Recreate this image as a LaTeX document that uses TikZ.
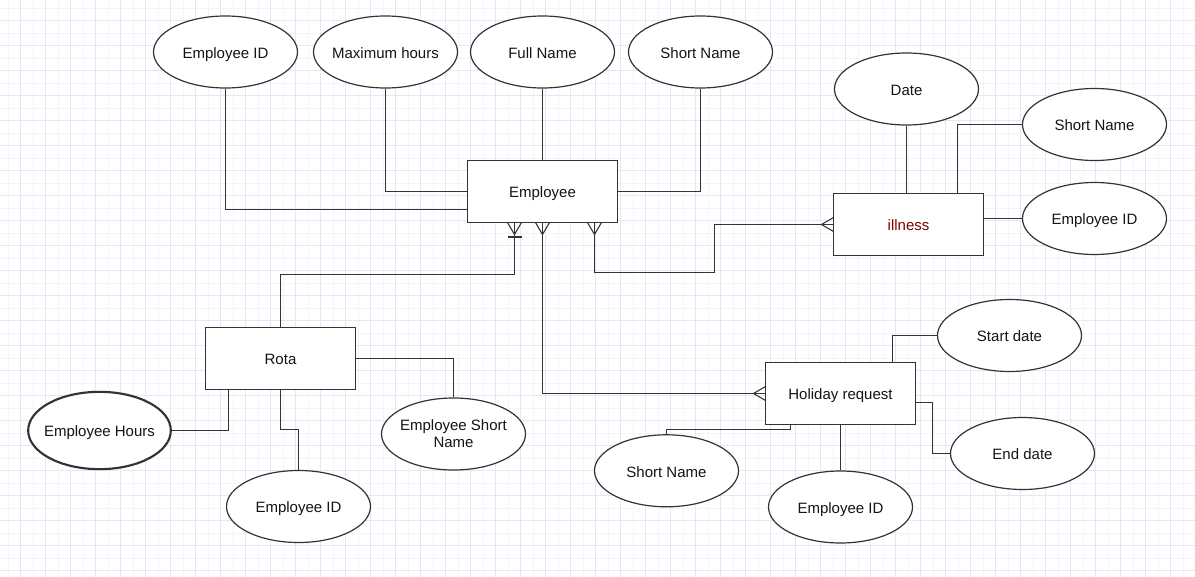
\documentclass[tikz,border=0pt]{standalone}
\usepackage{fontspec}
\setmainfont{Liberation Sans}
\usetikzlibrary{shapes.geometric,calc}
\definecolor{gridmaj}{RGB}{230,230,249}
\definecolor{gridmin}{RGB}{244,244,252}
\definecolor{linec}{RGB}{51,51,51}
\definecolor{txt}{RGB}{20,20,20}
\definecolor{illred}{RGB}{128,0,0}
\newcommand\zw[1]{\makebox[0pt][c]{#1}}
\begin{document}
\begin{tikzpicture}[x=0.75pt,y=-0.75pt,
  basefont/.style={font=\fontsize{11.25}{12.75}\selectfont,text=txt},
  attr/.style={ellipse,draw=linec,line width=0.9pt,fill=white,minimum width=108pt,minimum height=54pt,inner sep=0pt,basefont,text height=11pt,text depth=1.6pt},
  attrtwo/.style={ellipse,draw=linec,line width=0.9pt,fill=white,minimum width=108pt,minimum height=54pt,inner sep=0pt,basefont,align=center},
  ent/.style={rectangle,draw=linec,line width=1pt,fill=white,minimum width=112.5pt,minimum height=46.5pt,inner sep=0pt,outer sep=0pt,basefont,text height=11pt,text depth=1.6pt},
  conn/.style={draw=linec,line width=0.8pt},
  gmin/.style={draw=gridmin,line width=0.75pt},
  gmaj/.style={draw=gridmaj,line width=0.75pt}]
\useasboundingbox (0,0) rectangle (1195,577);
\fill[white] (0,0) rectangle (1195,577);
\foreach \x in {8.2,33.2,...,1195} \draw[gmin] (\x,0) -- (\x,577);
\foreach \y in {8.2,33.2,...,577} \draw[gmin] (0,\y) -- (1195,\y);
\foreach \x in {20.7,45.7,...,1195} \draw[gmaj] (\x,0) -- (\x,577);
\foreach \y in {20.7,45.7,...,577} \draw[gmaj] (0,\y) -- (1195,\y);

% nodes
\node[attr] (eid) at (225.5,52) {\zw{Employee ID}};
\node[attr] (maxh) at (385.5,52) {\zw{Maximum hours}};
\node[attr] (fname) at (542.5,52) {\zw{Full Name}};
\node[attr] (sname) at (700.5,52) {\zw{Short Name}};
\node[ent] (emp) at (542.5,191.5) {Employee};
\node[attr] (date) at (906.5,89) {\zw{Date}};
\node[attr] (isname) at (1094.5,124.5) {\zw{Short Name}};
\node[attr] (ieid) at (1094.5,218.5) {\zw{Employee ID}};
\node[ent,text=illred] (ill) at (908.5,224.5) {illness};
\node[ent] (rota) at (280.5,358.5) {Rota};
\node[attr,line width=1.6pt,minimum height=58pt,minimum width=107pt] (hours) at (99.5,430.5) {\zw{Employee Hours}};
\node[attr] (reid) at (298.5,506.5) {\zw{Employee ID}};
\node[attrtwo] (resn) at (453.5,434) {\zw{Employee Short}\\\zw{Name}};
\node[ent] (hol) at (840.5,393.5) {Holiday request};
\node[attr] (hstart) at (1009.5,335.5) {\zw{Start date}};
\node[attr] (hend) at (1022.5,453.5) {\zw{End date}};
\node[attr] (heid) at (840.5,507) {\zw{Employee ID}};
\node[attr] (hsn) at (666.5,470.8) {\zw{Short Name}};

% Employee attributes
\draw[conn] (eid.south) |- ($(emp.west)+(0,18)$);
\draw[conn] (maxh.south) |- (emp.west);
\draw[conn] (fname.south) -- (emp.north);
\draw[conn] (sname.south) |- (emp.east);

% relationship anchors on Employee
\coordinate (e1) at ($(emp.south)+(-28,0)$);
\coordinate (e2) at (emp.south);
\coordinate (e3) at ($(emp.south)+(52,0)$);

% Rota - Employee (one or many at Employee)
\draw[conn] (rota.north) |- ($(e1)+(0,52)$) -- (e1);
\draw[conn] ($(e1)+(-7,0)$) -- ($(e1)+(0,12)$) -- ($(e1)+(7,0)$);
\draw[conn] ($(e1)+(-7,14.5)$) -- ($(e1)+(7,14.5)$);

% Holiday - Employee
\draw[conn] (e2) |- (hol.west);
\draw[conn] ($(e2)+(-7,0)$) -- ($(e2)+(0,12)$) -- ($(e2)+(7,0)$);
\draw[conn] ($(hol.west)+(0,-7)$) -- ($(hol.west)+(-12,0)$) -- ($(hol.west)+(0,7)$);

% illness - Employee
\draw[conn] (e3) -- ($(e3)+(0,50)$) -| ($(ill.west)+(-119,0)$) -- (ill.west);
\draw[conn] ($(e3)+(-7,0)$) -- ($(e3)+(0,12)$) -- ($(e3)+(7,0)$);
\draw[conn] ($(ill.west)+(0,-7)$) -- ($(ill.west)+(-12,0)$) -- ($(ill.west)+(0,7)$);

% illness attributes
\draw[conn] (date.south) -- (date.south |- ill.north);
\draw[conn] ($(ill.north)+(49,0)$) |- (isname.west);
\draw[conn] (ieid.west -| ill.east) -- (ieid.west);

% Rota attributes
\draw[conn] ($(rota.south)+(-52,0)$) |- (hours.east);
\draw[conn] (rota.south) -- ($(rota.south)+(0,40)$) -| (reid.north);
\draw[conn] (rota.east) -| (resn.north);

% Holiday attributes
\draw[conn] ($(hol.north)+(52,0)$) |- (hstart.west);
\draw[conn] ($(hol.east)+(0,9)$) -- ($(hol.east)+(17,9)$) |- (hend.west);
\draw[conn] (hol.south) -- (hol.south |- heid.north);
\draw[conn] ($(hol.south)+(-50,0)$) -- ($(hol.south)+(-50,5)$) -| (hsn.north);
\end{tikzpicture}
\end{document}
